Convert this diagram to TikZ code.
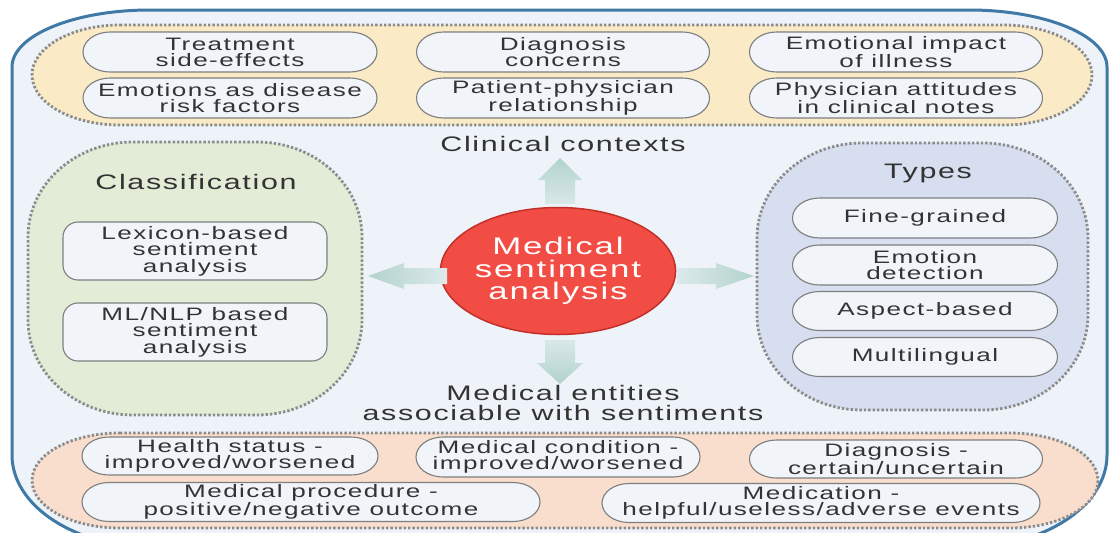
\documentclass[tikz,border=0pt]{standalone}
\usepackage{fontspec}
\setmainfont[FakeStretch=1.45,LetterSpace=8]{Liberation Sans}
\usetikzlibrary{shapes.geometric}
\definecolor{bgc}{HTML}{EEF3F9}
\definecolor{outerc}{HTML}{3F79A6}
\definecolor{dotc}{HTML}{8C8C8C}
\definecolor{yelc}{HTML}{FBEAC6}
\definecolor{grnc}{HTML}{E3ECD6}
\definecolor{bluc}{HTML}{D6DEF0}
\definecolor{pchc}{HTML}{F9DECD}
\definecolor{pillfill}{HTML}{F1F5FA}
\definecolor{pillline}{HTML}{7E7E7E}
\definecolor{redc}{HTML}{F14D45}
\definecolor{redd}{HTML}{C2302A}
\definecolor{arrowc}{HTML}{B3D3CC}
\definecolor{txt}{HTML}{333333}
\newcommand\mygroup[7]{%
  \filldraw[#1] (#2+#6,#3) -- (#4-#6,#3)
    arc[start angle=270,end angle=360,x radius=#6,y radius=#7] -- (#4,#5-#7)
    arc[start angle=0,end angle=90,x radius=#6,y radius=#7] -- (#2+#6,#5)
    arc[start angle=90,end angle=180,x radius=#6,y radius=#7] -- (#2,#3+#7)
    arc[start angle=180,end angle=270,x radius=#6,y radius=#7] -- cycle;}
% name, cx, cy, width, height, text
\newcommand\mypill[6]{%
  \mygroup{pillshape}{#2-#4/2}{#3-#5/2}{#2+#4/2}{#3+#5/2}{27}{#5/2}
  \node[pilltext] (#1) at (#2,#3) {#6};}
\begin{document}
\begin{tikzpicture}[x=1pt,y=-1pt,
  grp/.style={draw=dotc, line width=2.8pt, dash pattern=on 2.4pt off 2pt},
  pillshape/.style={draw=pillline, line width=1.1pt, fill=pillfill},
  pilltext/.style={inner sep=0pt, align=center, text=txt,
    font=\fontsize{18}{16}\selectfont},
  box/.style={draw=pillline, line width=1.1pt, fill=pillfill, rounded corners=15pt,
    minimum width=264pt, minimum height=58pt, inner sep=0pt, align=center, text=txt,
    font=\fontsize{18}{16.5}\selectfont},
  title/.style={text=txt, align=center, inner sep=0pt, font=\fontsize{21}{20}\selectfont},
  fatarrow/.style={draw=none}]
\useasboundingbox (0,0) rectangle (1109,533);
\fill[white] (0,0) rectangle (1109,533);
% outer frame
\filldraw[fill=bgc, draw=outerc, line width=3pt]
  (150,10) -- (969,10) arc[start angle=270,end angle=360,x radius=138,y radius=57]
  -- (1107,455) arc[start angle=0,end angle=90,x radius=140,y radius=92]
  -- (152,547) arc[start angle=90,end angle=180,x radius=140,y radius=92]
  -- (12,67) arc[start angle=180,end angle=270,x radius=138,y radius=57] -- cycle;
% groups
\mygroup{grp, fill=yelc}{32}{25}{1092}{125}{88}{50}
\mygroup{grp, fill=grnc}{28}{142}{362}{415}{105}{95}
\mygroup{grp, fill=bluc}{757}{143}{1088}{410}{105}{95}
\mygroup{grp, fill=pchc}{32}{433}{1098}{528}{88}{47.5}
% clinical contexts
\mypill{t1}{230}{52}{294}{40}{Treatment\\side-effects}
\mypill{t2}{563}{52}{293}{40}{Diagnosis\\concerns}
\mypill{t3}{896}{52}{293}{40}{Emotional impact\\of illness}
\mypill{t4}{230}{98}{294}{40}{Emotions as disease\\risk factors}
\mypill{t5}{563}{98}{293}{40}{Patient-physician\\relationship}
\mypill{t6}{896}{98}{293}{40}{Physician attitudes\\in clinical notes}
\node[title] (clin) at (563,144) {Clinical contexts};
% classification
\node[title] (cls) at (196,182) {Classification};
\node[box] (lex) at (195,251) {Lexicon-based\\sentiment\\analysis};
\node[box] (ml) at (195,332) {ML/NLP based\\sentiment\\analysis};
% types
\node[title] (typ) at (928,173) {Types};
\mypill{y1}{925}{218}{265}{40}{Fine-grained}
\mypill{y2}{925}{265}{265}{40}{Emotion\\detection}
\mypill{y3}{925}{311}{265}{39}{Aspect-based}
\mypill{y4}{925}{357}{265}{39}{Multilingual}
% centre
\node[ellipse, minimum width=220pt, minimum height=127pt, inner sep=0pt,
  fill=redc, draw=redd, line width=1.5pt, text=white, align=center,
  font=\fontsize{24}{22.5}\selectfont] (msa) at (558,271) {Medical\\sentiment\\analysis};
% fat arrows
\shade[fatarrow, top color=arrowc, bottom color=arrowc!35!bgc]
  (545,204) -- (545,180) -- (538,180) -- (560,158) -- (582,180) -- (575,180) -- (575,204) -- cycle;
\shade[fatarrow, bottom color=arrowc, top color=arrowc!35!bgc]
  (545,340) -- (545,363) -- (537,363) -- (560,384) -- (583,363) -- (575,363) -- (575,340) -- cycle;
\shade[fatarrow, left color=arrowc, right color=arrowc!30!bgc]
  (447,268) -- (404,268) -- (404,263) -- (368,276) -- (404,289) -- (404,284) -- (447,284) -- cycle;
\shade[fatarrow, right color=arrowc, left color=arrowc!30!bgc]
  (677,268) -- (716,268) -- (716,263) -- (754,276) -- (716,289) -- (716,284) -- (677,284) -- cycle;
\node[title] (ent) at (563,403) {Medical entities\\associable with sentiments};
% medical entities
\mypill{b1}{230}{456}{296}{38}{Health status -\\improved/worsened}
\mypill{b2}{558}{457}{284}{40}{Medical condition -\\improved/worsened}
\mypill{b3}{896}{459}{293}{38}{Diagnosis -\\certain/uncertain}
\mypill{b4}{311}{502}{458}{39}{Medical procedure -\\positive/negative outcome}
\mypill{b5}{821}{503}{438}{39}{Medication -\\helpful/useless/adverse events}
\end{tikzpicture}
\end{document}
